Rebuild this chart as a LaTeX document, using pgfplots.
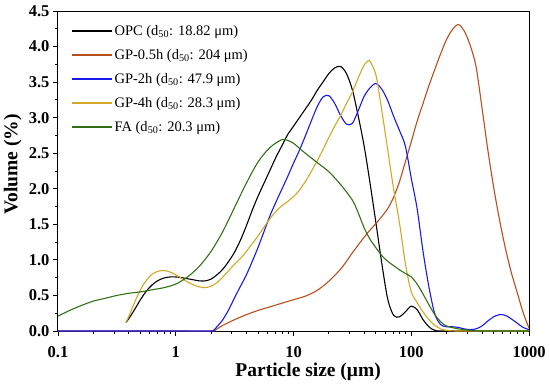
\documentclass[border=0pt]{standalone}
\usepackage{fontspec}
\setmainfont{Liberation Serif}
\usepackage{pgfplots}
\pgfplotsset{compat=1.18}
\definecolor{cbrown}{RGB}{185,78,30}
\definecolor{cblue}{RGB}{25,25,235}
\definecolor{cgold}{RGB}{212,168,36}
\definecolor{cgreen}{RGB}{52,112,24}
\begin{document}
\begin{tikzpicture}
\begin{axis}[
  scale only axis, width=471pt, height=320pt,
  xmode=log, xmin=0.1, xmax=1000, ymin=0, ymax=4.5,
  xtick={0.1,1,10,100,1000}, xticklabels={0.1,1,10,100,1000},
  minor xtick={0.2,0.3,0.4,0.5,0.6,0.7,0.8,0.9,2,3,4,5,6,7,8,9,20,30,40,50,60,70,80,90,200,300,400,500,600,700,800,900},
  ytick={0,0.5,1,1.5,2,2.5,3,3.5,4,4.5},
  yticklabels={0.0,0.5,1.0,1.5,2.0,2.5,3.0,3.5,4.0,4.5},
  minor y tick num=1,
  tick align=outside, xtick pos=left, ytick pos=left,
  major tick length=5pt, minor tick length=3pt,
  every tick/.style={black, line width=0.9pt},
  axis line style={line width=1pt},
  ticklabel style={font=\fontsize{16.5}{18}\selectfont\bfseries},
  xticklabel style={yshift=-7pt},
  xlabel={Particle size (μm)}, ylabel={Volume (\%)},
  label style={font=\fontsize{19.5}{22}\selectfont\bfseries},
  xlabel style={at={(axis description cs:0.531,-0.128)}, anchor=center},
  ylabel style={at={(axis description cs:-0.096,0.52)}, anchor=center},
  legend cell align=left,
  legend image code/.code={\draw[#1,line width=1.5pt] (0pt,4.5pt) -- (40pt,4.5pt);},
  legend style={at={(axis description cs:0.021,0.962)}, anchor=north west,
    draw=none, fill=none, font=\fontsize{14.5}{16}\selectfont,
    nodes={inner sep=0pt, text height=10pt, text depth=3pt, anchor=base west},
    row sep=11pt,
    /tikz/every odd column/.style={column sep=2pt}},
  every axis plot/.append style={line width=1.1pt, smooth, no markers},
]
% OPC
\addplot[black] coordinates {
(0.378,0.12) (0.39811,0.17) (0.44668,0.30) (0.50119,0.44) (0.56234,0.56) (0.63096,0.65) (0.70795,0.71) (0.79433,0.745) (0.89125,0.76) (1,0.76) (1.1220,0.75) (1.2589,0.735) (1.4125,0.72) (1.5849,0.705) (1.7783,0.705) (1.9953,0.73) (2.2387,0.79) (2.5119,0.87) (2.8184,0.98) (3.1623,1.11) (3.5481,1.28) (3.9811,1.48) (4.4668,1.70) (5.0119,1.90) (5.6234,2.08) (6.3096,2.26) (7.0795,2.44) (7.9433,2.60) (8.9125,2.76) (10,2.88) (11.220,3.00) (12.589,3.12) (14.125,3.24) (15.849,3.38) (17.783,3.50) (19.953,3.62) (22.387,3.70) (25.119,3.72) (28.184,3.62) (31.623,3.39) (35.481,3.02) (39.811,2.60) (44.668,2.08) (50.119,1.52) (56.234,0.95) (63.096,0.45) (70.795,0.22) (79.433,0.20) (89.125,0.27) (100,0.35) (112.20,0.30) (125.89,0.16) (141.25,0.06) (158.49,0.01) (199.53,0) (1000,0)};
\addlegendentry{OPC (d\textsubscript{50}: 18.82 μm)}
% GP-0.5h
\addplot[cbrown] coordinates {
(0.1,0) (1,0) (1.9953,0) (2.2387,0.03) (2.5119,0.08) (2.8184,0.12) (3.1623,0.16) (3.9811,0.23) (5.0119,0.29) (6.3096,0.34) (7.9433,0.39) (10,0.44) (12.589,0.49) (15.849,0.57) (19.953,0.70) (25.119,0.87) (28.184,0.98) (31.623,1.10) (35.481,1.21) (39.811,1.32) (44.668,1.42) (50.119,1.51) (56.234,1.61) (63.096,1.72) (70.795,1.88) (79.433,2.10) (89.125,2.38) (100,2.66) (112.20,2.95) (125.89,3.20) (141.25,3.45) (158.49,3.68) (177.83,3.90) (199.53,4.10) (223.87,4.24) (251.19,4.31) (281.84,4.22) (316.23,4.02) (354.81,3.72) (398.11,3.15) (446.68,2.55) (501.19,2.02) (562.34,1.56) (630.96,1.16) (707.95,0.82) (794.33,0.54) (891.25,0.26) (1000,0.04)};
\addlegendentry{GP-0.5h (d\textsubscript{50}: 204 μm)}
% GP-2h
\addplot[cblue] coordinates {
(0.1,0) (1,0) (1.9953,0) (2.0845,0.005) (2.2387,0.06) (2.5119,0.16) (2.8184,0.30) (3.1623,0.47) (3.5481,0.63) (3.9811,0.79) (4.4668,0.98) (5.0119,1.18) (5.6234,1.40) (6.3096,1.62) (7.0795,1.81) (7.9433,1.99) (8.9125,2.17) (10,2.36) (11.220,2.54) (12.589,2.74) (14.125,2.95) (15.849,3.15) (17.783,3.29) (19.953,3.31) (22.387,3.20) (25.119,3.03) (28.184,2.91) (31.623,2.92) (35.481,3.10) (39.811,3.30) (44.668,3.42) (50.119,3.48) (56.234,3.40) (63.096,3.24) (70.795,3.02) (79.433,2.82) (89.125,2.60) (100,2.15) (112.20,1.72) (125.89,1.12) (141.25,0.62) (158.49,0.24) (177.83,0.09) (199.53,0.06) (223.87,0.06) (251.19,0.05) (281.84,0.03) (316.23,0.02) (354.81,0.03) (398.11,0.07) (446.68,0.14) (501.19,0.20) (562.34,0.23) (630.96,0.22) (707.95,0.17) (794.33,0.11) (891.25,0.05) (1000,0.02)};
\addlegendentry{GP-2h (d\textsubscript{50}: 47.9 μm)}
% GP-4h
\addplot[cgold] coordinates {
(0.378,0.12) (0.39811,0.20) (0.44668,0.40) (0.50119,0.58) (0.56234,0.71) (0.63096,0.80) (0.70795,0.84) (0.79433,0.85) (0.89125,0.83) (1,0.79) (1.1220,0.74) (1.2589,0.69) (1.4125,0.65) (1.5849,0.62) (1.7783,0.61) (1.9953,0.63) (2.2387,0.68) (2.5119,0.76) (2.8184,0.85) (3.1623,0.94) (3.5481,1.02) (3.9811,1.12) (4.4668,1.23) (5.0119,1.34) (5.6234,1.46) (6.3096,1.58) (7.0795,1.68) (7.9433,1.76) (8.9125,1.82) (10,1.89) (11.220,1.98) (12.589,2.10) (14.125,2.24) (15.849,2.39) (17.783,2.55) (19.953,2.72) (22.387,2.88) (25.119,3.03) (28.184,3.20) (31.623,3.36) (35.481,3.56) (39.811,3.74) (43.15,3.80) (44.668,3.79) (50.119,3.60) (56.234,3.10) (63.096,2.55) (70.795,2.00) (79.433,1.52) (89.125,0.95) (100,0.55) (112.20,0.40) (125.89,0.27) (141.25,0.16) (158.49,0.08) (177.83,0.03) (199.53,0.01) (251.19,0) (1000,0)};
\addlegendentry{GP-4h (d\textsubscript{50}: 28.3 μm)}
% FA
\addplot[cgreen] coordinates {
(0.1,0.21) (0.12589,0.29) (0.15849,0.36) (0.19953,0.42) (0.25119,0.46) (0.31623,0.50) (0.39811,0.53) (0.50119,0.55) (0.63096,0.58) (0.79433,0.61) (1,0.66) (1.2589,0.76) (1.5849,0.91) (1.9953,1.12) (2.5119,1.40) (3.1623,1.74) (3.9811,2.08) (5.0119,2.38) (6.3096,2.58) (7.9433,2.69) (8.9125,2.68) (10,2.64) (12.589,2.50) (15.849,2.37) (19.953,2.24) (25.119,2.06) (31.623,1.84) (35.481,1.66) (39.811,1.45) (44.668,1.29) (50.119,1.17) (56.234,1.06) (63.096,0.98) (70.795,0.92) (79.433,0.86) (89.125,0.81) (100,0.76) (112.20,0.66) (125.89,0.52) (141.25,0.37) (158.49,0.23) (177.83,0.13) (199.53,0.07) (251.19,0.03) (316.23,0.01) (398.11,0) (1000,0)};
\addlegendentry{FA (d\textsubscript{50}: 20.3 μm)}
\end{axis}
\path (current axis.south west) ++(-58pt,-55pt) coordinate (bbA);
\path (current axis.north east) ++(21pt,11pt) coordinate (bbB);
\path (bbA) rectangle (bbB);
\end{tikzpicture}
\end{document}
